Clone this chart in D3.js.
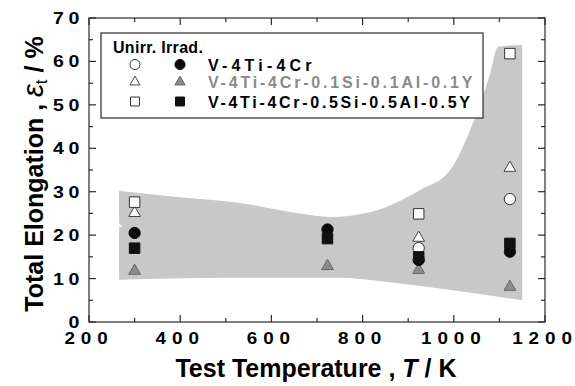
<!DOCTYPE html>
<html>
<head>
<meta charset="utf-8">
<script src="https://cdn.jsdelivr.net/npm/d3@7"></script>
<style>
  html, body { margin: 0; padding: 0; background: #fff; }
  svg { display: block; font-family: "Liberation Sans", Arial, sans-serif; }
</style>
</head>
<body>
<svg id="chart" width="575" height="386"></svg>
<script>
// test temperatures (K)
const temps = [300, 723, 923, 1123]

// total elongation (%), null = not visible
const unirrV4Cr      = [null, null, 17.0, 28.3]
const irradV4Cr      = [20.5, 21.3, 14.3, 16.2]
const unirrV01Si     = [25.3, null, 19.6, 35.7]
const irradV01Si     = [12.0, 13.1, 12.2, 8.3]
const unirrV05Si     = [27.6, null, 24.9, 61.8]
const irradV05Si     = [17.0, 19.2, 15.0, 18.1]

// scatter bands: [T, low, high]
const bandUnirr = [
  [266, 22.8, 30.2], [300, 20, 29.8], [400, 20, 28.7], [531, 20, 27.4],
  [663, 20, 25.0], [728, 20, 24.2], [820, 20, 25.4], [926, 20, 30.4],
  [992, 20, 35.0], [1035, 20, 44.0], [1079, 20, 57.0], [1097, 20, 63.4],
  [1150, 20, 63.8]
]
const bandIrrad = [
  [266, 9.7, 21.9], [500, 10.2, 21.6], [750, 10.2, 21.2],
  [840, 9.4, 21.0], [990, 7.4, 20.7], [1150, 5.0, 20.5]
]

const xTicks = [200, 400, 600, 800, 1000, 1200]
const yTicks = [0, 10, 20, 30, 40, 50, 60, 70]
const legendLabels = ['V-4Ti-4Cr', 'V-4Ti-4Cr-0.1Si-0.1Al-0.1Y', 'V-4Ti-4Cr-0.5Si-0.5Al-0.5Y']

const svg = d3.select('#chart')
const x = d3.scaleLinear().domain([200, 1200]).range([89, 545])
const y = d3.scaleLinear().domain([0, 70]).range([322, 18])
const frame = '#2a2a2a'

// bands
const area = d3.area()
  .x(d => x(d[0]))
  .y0(d => y(d[1]))
  .y1(d => y(d[2]))
  .curve(d3.curveMonotoneX)

svg.append('g').selectAll('path')
  .data([bandUnirr, bandIrrad])
  .join('path')
  .attr('d', area)
  .attr('fill', '#c8c8c8')

// frame
svg.append('rect')
  .attr('x', x(200)).attr('y', y(70))
  .attr('width', x(1200) - x(200)).attr('height', y(0) - y(70))
  .attr('fill', 'none').attr('stroke', frame).attr('stroke-width', 1.2)

// ticks (inward, all four sides)
const tickG = svg.append('g').attr('stroke', frame).attr('stroke-width', 1.2)
d3.range(200, 1201, 100).forEach(t => {
  const len = t % 200 === 0 ? 7 : 4
  tickG.append('line').attr('x1', x(t)).attr('x2', x(t)).attr('y1', y(0)).attr('y2', y(0) - len)
  tickG.append('line').attr('x1', x(t)).attr('x2', x(t)).attr('y1', y(70)).attr('y2', y(70) + len)
})
d3.range(0, 71, 5).forEach(v => {
  const len = v % 10 === 0 ? 7 : 4
  tickG.append('line').attr('x1', x(200)).attr('x2', x(200) + len).attr('y1', y(v)).attr('y2', y(v))
  tickG.append('line').attr('x1', x(1200)).attr('x2', x(1200) - len).attr('y1', y(v)).attr('y2', y(v))
})

// tick labels (wide, spaced digits as in the original)
svg.append('g').selectAll('text')
  .data(xTicks)
  .join('text')
  .attr('transform', d => `translate(${x(d)},344) scale(1.18,1)`)
  .attr('text-anchor', 'middle')
  .attr('font-size', 16).attr('font-weight', 'bold')
  .attr('letter-spacing', 5)
  .text(d => d)

svg.append('g').selectAll('text')
  .data(yTicks)
  .join('text')
  .attr('transform', d => `translate(84,${y(d) + 6}) scale(1.15,1)`)
  .attr('text-anchor', 'end')
  .attr('font-size', 17).attr('font-weight', 'bold')
  .attr('letter-spacing', 4)
  .text(d => d)

// axis titles
const xt = svg.append('text')
  .attr('x', 316).attr('y', 377)
  .attr('text-anchor', 'middle')
  .attr('font-size', 25).attr('font-weight', 'bold')
xt.append('tspan').text('Test Temperature ,  ')
xt.append('tspan').attr('font-style', 'italic').text('T')
xt.append('tspan').text(' / K')

const yt = svg.append('text')
  .attr('transform', 'translate(43,174) rotate(-90)')
  .attr('text-anchor', 'middle')
  .attr('font-size', 25).attr('font-weight', 'bold')
yt.append('tspan').text('Total Elongation ,  ')
yt.append('tspan').attr('font-style', 'italic').attr('font-weight', 'normal').attr('font-size', 29).text('ε')
yt.append('tspan').attr('font-weight', 'normal').attr('font-size', 17).attr('dy', 4).text('t')
yt.append('tspan').attr('dy', -4).text('  / %')

// markers
const sym = {
  circle: d3.symbol().type(d3.symbolCircle).size(100),
  square: d3.symbol().type(d3.symbolSquare).size(110),
  triangle: d3.symbol().type(d3.symbolTriangle).size(60)
}
const series = [
  { vals: unirrV4Cr, shape: 'circle', fill: '#fff', stroke: '#333' },
  { vals: unirrV01Si, shape: 'triangle', fill: '#fff', stroke: '#444' },
  { vals: unirrV05Si, shape: 'square', fill: '#fff', stroke: '#333' },
  { vals: irradV01Si, shape: 'triangle', fill: '#8c8c8c', stroke: '#666' },
  { vals: irradV4Cr, shape: 'circle', fill: '#0a0a0a', stroke: '#0a0a0a' },
  { vals: irradV05Si, shape: 'square', fill: '#111', stroke: '#111' }
]
const markG = svg.append('g')
series.forEach(s => {
  const pts = temps.map((t, i) => [t, s.vals[i]]).filter(d => d[1] != null)
  markG.append('g').selectAll('path')
    .data(pts)
    .join('path')
    .attr('transform', d => `translate(${x(d[0])},${y(d[1]) + (s.shape === 'triangle' ? 1 : 0)})`)
    .attr('d', sym[s.shape])
    .attr('fill', s.fill)
    .attr('stroke', s.stroke)
    .attr('stroke-width', 1)
})

// legend
const lg = svg.append('g')
lg.append('rect')
  .attr('x', 101).attr('y', 33).attr('width', 382).attr('height', 85)
  .attr('fill', '#fff').attr('stroke', frame).attr('stroke-width', 1.2)
lg.append('text')
  .attr('x', 113).attr('y', 53)
  .attr('font-size', 16).attr('font-weight', 'bold')
  .attr('letter-spacing', 0.3)
  .text('Unirr. Irrad.')

const legSym = {
  circle: d3.symbol().type(d3.symbolCircle).size(80),
  square: d3.symbol().type(d3.symbolSquare).size(80),
  triangle: d3.symbol().type(d3.symbolTriangle).size(45)
}
const rowY = [64.5, 82, 101.5]
const legRows = [
  { shape: 'circle', open: series[0], filled: series[4], color: '#000', spacing: 4.2 },
  { shape: 'triangle', open: series[1], filled: series[3], color: '#8a8a8a', spacing: 2.8 },
  { shape: 'square', open: series[2], filled: series[5], color: '#000', spacing: 2.7 }
]
legRows.forEach((r, i) => {
  lg.append('path')
    .attr('transform', `translate(135,${rowY[i]})`)
    .attr('d', legSym[r.shape])
    .attr('fill', r.open.fill).attr('stroke', r.open.stroke)
  lg.append('path')
    .attr('transform', `translate(180,${rowY[i]})`)
    .attr('d', legSym[r.shape])
    .attr('fill', r.filled.fill).attr('stroke', r.filled.stroke)
  lg.append('text')
    .attr('x', 208).attr('y', rowY[i] + 6)
    .attr('font-size', 16).attr('font-weight', 'bold')
    .attr('letter-spacing', r.spacing)
    .attr('fill', r.color)
    .text(legendLabels[i])
})
</script>
</body>
</html>
